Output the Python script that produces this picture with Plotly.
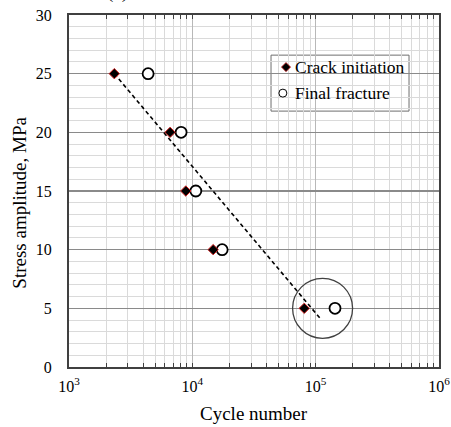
import plotly.graph_objects as go

# ---- data ----
stress_levels = [25, 20, 15, 10, 5]
crack_initiation_cycles = [2330, 6600, 8850, 14750, 80800]
final_fracture_cycles = [4380, 8110, 10670, 17450, 143500]
trend_cycles = [2330, 110400]
trend_stress = [25, 4.06]
highlight_cycles = [113800]
highlight_stress = [5]
x_tick_vals = [1e3, 1e4, 1e5, 1e6]
x_tick_text = ["10<sup>3</sup>", "10<sup>4</sup>", "10<sup>5</sup>", "10<sup>6</sup>"]
y_tick_vals = [0, 5, 10, 15, 20, 25, 30]
legend_names = ["Crack initiation", "Final fracture"]

FONT = "Liberation Serif"

fig = go.Figure()

# trend line
fig.add_trace(go.Scatter(
    x=trend_cycles, y=trend_stress, mode="lines",
    line=dict(color="black", width=1.6, dash="4px,3px"),
    showlegend=False, hoverinfo="skip"))

# highlight circle
fig.add_trace(go.Scatter(
    x=highlight_cycles, y=highlight_stress, mode="markers",
    marker=dict(symbol="circle-open", size=60, color="#404040",
                line=dict(width=1.3, color="#404040")),
    showlegend=False, hoverinfo="skip"))

# final fracture
fig.add_trace(go.Scatter(
    x=final_fracture_cycles, y=stress_levels, mode="markers",
    marker=dict(symbol="circle", size=11, color="white",
                line=dict(width=1.8, color="black")),
    name=legend_names[1], showlegend=False))

# crack initiation
fig.add_trace(go.Scatter(
    x=crack_initiation_cycles, y=stress_levels, mode="markers",
    marker=dict(symbol="diamond", size=8, color="black",
                line=dict(width=1, color="#d02020")),
    name=legend_names[0], showlegend=False))

# ---- custom legend (keys drawn on an overlay axis in plot-fraction units) ----
LEG_X0, LEG_X1, LEG_Y0, LEG_Y1 = 0.546, 0.919, 0.727, 0.886
ROW_Y = [0.852, 0.778]
KEY_X = [0.5865, 0.578]
TEXT_X = 0.606

fig.add_trace(go.Scatter(
    x=[KEY_X[0]], y=[ROW_Y[0]], xaxis="x2", yaxis="y2", mode="markers",
    marker=dict(symbol="diamond", size=7, color="black",
                line=dict(width=0.8, color="#d02020")),
    showlegend=False, hoverinfo="skip"))
fig.add_trace(go.Scatter(
    x=[KEY_X[1]], y=[ROW_Y[1]], xaxis="x2", yaxis="y2", mode="markers",
    marker=dict(symbol="circle", size=8, color="white",
                line=dict(width=1, color="black")),
    showlegend=False, hoverinfo="skip"))

shapes = [dict(type="rect", xref="paper", yref="paper",
               x0=LEG_X0, x1=LEG_X1, y0=LEG_Y0, y1=LEG_Y1,
               fillcolor="white", line=dict(color="#6e6e6e", width=1),
               layer="between")]

annotations = [
    dict(text=legend_names[i], xref="paper", yref="paper", x=TEXT_X, y=ROW_Y[i],
         xanchor="left", yanchor="middle", showarrow=False,
         font=dict(family=FONT, size=17.5, color="black"))
    for i in range(2)
]
annotations += [
    dict(text="(a)", xref="paper", yref="paper", x=0.13, y=1,
         xanchor="center", yanchor="bottom", yshift=10, showarrow=False,
         font=dict(family=FONT, size=19, color="black")),
    dict(text="Stress amplitude, MPa", xref="paper", yref="paper",
         x=-0.1324, y=0.467, xanchor="center", yanchor="middle",
         textangle=-90, showarrow=False,
         font=dict(family=FONT, size=19, color="black")),
    dict(text="Cycle number", xref="paper", yref="paper",
         x=0.5, y=-0.131, xanchor="center", yanchor="middle",
         showarrow=False, font=dict(family=FONT, size=19, color="black")),
]

fig.update_layout(
    width=451, height=427,
    margin=dict(l=69, r=12, t=15, b=60, autoexpand=False),
    paper_bgcolor="white", plot_bgcolor="white",
    font=dict(family=FONT, size=16, color="black"),
    showlegend=False,
    shapes=shapes,
    annotations=annotations,
    xaxis2=dict(overlaying="x", range=[0, 1], visible=False, fixedrange=True),
    yaxis2=dict(overlaying="y", range=[0, 1], visible=False, fixedrange=True),
)

fig.layout.xaxis.update(
    type="log", range=[3, 6], automargin=False,
    tickvals=x_tick_vals, ticktext=x_tick_text,
    tickfont=dict(family=FONT, size=16, color="black"),
    ticks="inside", ticklen=4, tickcolor="#404040", tickwidth=1,
    ticklabelstandoff=4,
    showline=True, linecolor="#404040", linewidth=2, mirror="allticks",
    showgrid=True, gridcolor="#b8b8b8", gridwidth=1,
    minor=dict(dtick="D1", showgrid=True, gridcolor="#dadada", gridwidth=1,
               ticks="inside", ticklen=4, tickcolor="#404040"),
    zeroline=False,
)

fig.layout.yaxis.update(
    range=[0, 30], tickvals=y_tick_vals, automargin=False,
    tickfont=dict(family=FONT, size=16, color="black"),
    ticks="", ticklabelstandoff=12,
    showline=True, linecolor="#404040", linewidth=2, mirror=True,
    showgrid=True, gridcolor="#8a8a8a", gridwidth=1.4,
    minor=dict(dtick=1, showgrid=True, gridcolor="#dadada", gridwidth=1),
    zeroline=False,
)

fig.write_html(
    "out.html",
    config={"displayModeBar": False, "staticPlot": True},
    post_script="document.body.style.margin='0';document.body.style.overflow='hidden';",
)
